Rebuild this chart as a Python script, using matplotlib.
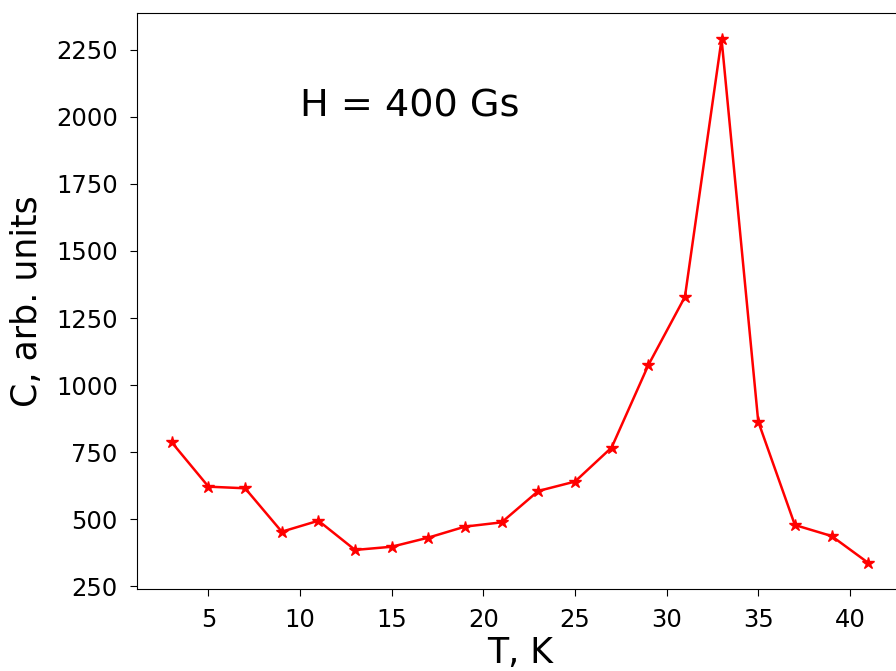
import matplotlib
matplotlib.use("Agg")
import matplotlib.pyplot as plt

T = [3, 5, 7, 9, 11, 13, 15, 17, 19, 21, 23, 25, 27, 29, 31, 33, 35, 37, 39, 41]
C = [786, 621, 615, 453, 494, 385, 397, 431, 472, 488, 605, 640, 767, 1074, 1329, 2290, 864, 478, 437, 337]

fig = plt.figure(figsize=(8.96, 6.71), dpi=100)
ax = fig.add_axes([137/896, 1 - 589/671, 766/896, 576/671])
ax.plot(T, C, color='red', marker='*', markersize=9, linewidth=1.8)
ax.set_xlabel('T, K', fontsize=25, labelpad=3)
ax.set_ylabel('C, arb. units', fontsize=25, labelpad=8.5)
ax.tick_params(labelsize=17.5, length=4.8, pad=9)
ax.set_xticks([5, 10, 15, 20, 25, 30, 35, 40])
ax.set_yticks([250, 500, 750, 1000, 1250, 1500, 1750, 2000, 2250])
ax.text(10, 2000, 'H = 400 Gs', fontsize=27.5)
fig.savefig('out.png', dpi=100)
